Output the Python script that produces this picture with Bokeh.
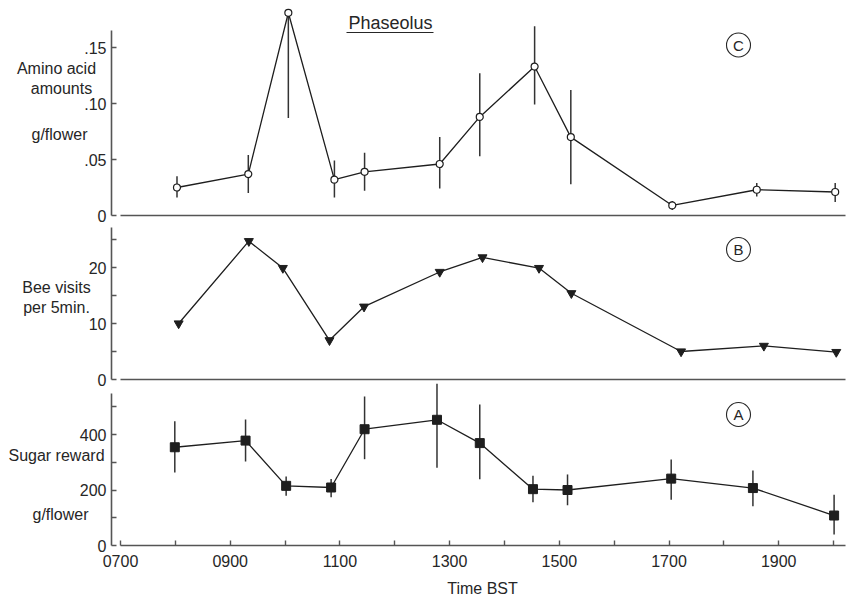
from bokeh.plotting import figure
from bokeh.models import Range1d, Label, FixedTicker, CustomJSTickFormatter, LinearAxis
from bokeh.embed import file_html
from bokeh.resources import INLINE

# ---------------- data (time in decimal hours BST) ----------------
amino_time = [8.03, 9.33, 10.06, 10.90, 11.45, 12.82, 13.55, 14.55, 15.21, 17.06, 18.60, 20.03]
amino = [0.025, 0.037, 0.181, 0.032, 0.039, 0.046, 0.088, 0.133, 0.070, 0.009, 0.023, 0.021]
amino_hi = [0.035, 0.054, 0.181, 0.049, 0.056, 0.070, 0.127, 0.169, 0.112, 0.013, 0.029, 0.029]
amino_lo = [0.016, 0.020, 0.087, 0.016, 0.022, 0.024, 0.053, 0.099, 0.028, 0.005, 0.017, 0.012]

bee_time = [8.06, 9.34, 9.96, 10.81, 11.44, 12.82, 13.60, 14.63, 15.22, 17.22, 18.73, 20.05]
bee = [10.0, 24.7, 19.9, 7.0, 13.0, 19.2, 21.8, 19.9, 15.4, 5.0, 6.0, 4.9]

sugar_time = [7.99, 9.28, 10.02, 10.84, 11.45, 12.77, 13.55, 14.52, 15.15, 17.04, 18.53, 20.01]
sugar = [354, 378, 215, 209, 419, 453, 369, 203, 200, 241, 207, 108]
sugar_hi = [448, 454, 249, 240, 537, 583, 508, 251, 256, 310, 270, 183]
sugar_lo = [263, 303, 179, 174, 311, 280, 239, 156, 145, 165, 141, 40]

x_ticks = list(range(7, 21))
amino_ticks = [0, 0.05, 0.10, 0.15]
bee_ticks = [0, 5, 10, 15, 20, 25]
sugar_ticks = [0, 100, 200, 300, 400, 500]

# ---------------- styling / layout ----------------
FONT = "Liberation Sans"
TXT = "#262626"
LINE = "#1e1e1e"
ERR = "#333333"
AXC = "#555555"
W, H = 850, 596
PXH = 54.85                          # pixels per hour
XA = 7 - 120 / PXH                   # hour at the left edge
XZ = XA + W / PXH
XB = (7, 20.22)                      # extent of the time axes


def px_x(px):
    return XA + px / PXH


Y_AXIS_X = px_x(111)

# panel scales: (pixel row of zero, pixels per unit)
TOP0, TOP_S = 215, 1120.0
MID0, MID_S = 379, 5.6
BOT0, BOT_S = 545, 0.2775

p = figure(width=W, height=H, x_range=Range1d(XA, XZ), y_range=Range1d(H, 0),
           x_axis_type=None, y_axis_type=None, output_backend="svg",
           toolbar_location=None, min_border=0)
p.outline_line_color = None
p.background_fill_color = "white"
p.border_fill_color = "white"
p.extra_y_ranges = {
    "amino": Range1d((TOP0 - H) / TOP_S, TOP0 / TOP_S),
    "bee": Range1d((MID0 - H) / MID_S, MID0 / MID_S),
    "sugar": Range1d((BOT0 - H) / BOT_S, BOT0 / BOT_S),
}


def style(ax):
    ax.axis_line_color = AXC
    ax.axis_line_width = 1.6
    ax.major_tick_line_color = AXC
    ax.major_tick_line_width = 1.4
    ax.major_tick_in = 5
    ax.major_tick_out = 0
    ax.minor_tick_in = 0
    ax.minor_tick_out = 0
    ax.major_label_text_font = FONT
    ax.major_label_text_font_size = "16px"
    ax.major_label_text_color = TXT
    return ax


def y_axis(name, ticks, bounds, code):
    ax = style(LinearAxis(y_range_name=name, fixed_location=Y_AXIS_X, bounds=bounds,
                          ticker=FixedTicker(ticks=ticks),
                          formatter=CustomJSTickFormatter(code=code)))
    ax.major_label_standoff = 5
    p.add_layout(ax, "left")


def x_axis(name, ticks, code=None):
    ax = style(LinearAxis(y_range_name=name, fixed_location=0, bounds=XB,
                          ticker=FixedTicker(ticks=ticks)))
    if code:
        ax.formatter = CustomJSTickFormatter(code=code)
        ax.major_label_standoff = 9
    else:
        ax.major_tick_in = 0
        ax.major_label_standoff = 0
    p.add_layout(ax, "below")


def add_label(x, y, text, size="16px"):
    p.add_layout(Label(x=x, y=y, text=text, text_font=FONT, text_font_size=size,
                       text_color=TXT, text_align="center", text_baseline="middle"))


def circled(px, py, letter):
    p.scatter([px_x(px)], [py], marker="circle", size=24, fill_color=None,
              line_color=TXT, line_width=1.1)
    add_label(px_x(px), py, letter, size="15px")


# axes
y_axis("amino", amino_ticks, (0, 0.165),
       "return tick == 0 ? '0' : tick.toFixed(2).replace(/^0/, '');")
y_axis("bee", bee_ticks, (0, 27.1),
       "return (Math.round(tick) % 10 == 0) ? tick.toFixed(0) : '';")
y_axis("sugar", sugar_ticks, (0, 548),
       "return (Math.round(tick) % 200 == 0) ? tick.toFixed(0) : '';")
x_axis("amino", [])
x_axis("bee", [])
x_axis("sugar", x_ticks,
       "var h = Math.round(tick); if (h % 2 == 0) return ''; return (h < 10 ? '0' : '') + h + '00';")

# top: amino acids (C)
p.segment(x0=amino_time, y0=amino_lo, x1=amino_time, y1=amino_hi,
          line_color=ERR, line_width=1.5, y_range_name="amino")
p.line(amino_time, amino, line_color=LINE, line_width=1.3, y_range_name="amino")
p.scatter(amino_time, amino, marker="circle", size=7, fill_color="white",
          line_color=LINE, line_width=1.2, y_range_name="amino")

# middle: bee visits (B)
p.line(bee_time, bee, line_color=LINE, line_width=1.3, y_range_name="bee")
p.scatter(bee_time, bee, marker="inverted_triangle", size=9, fill_color=LINE,
          line_color=LINE, y_range_name="bee")

# bottom: sugar reward (A)
p.segment(x0=sugar_time, y0=sugar_lo, x1=sugar_time, y1=sugar_hi,
          line_color=ERR, line_width=1.5, y_range_name="sugar")
p.line(sugar_time, sugar, line_color=LINE, line_width=1.3, y_range_name="sugar")
p.scatter(sugar_time, sugar, marker="square", size=9, fill_color=LINE,
          line_color=LINE, y_range_name="sugar")

# texts (positions in pixel rows of the default y range)
add_label(px_x(56), 68, "Amino acid")
add_label(px_x(61), 88, "amounts")
add_label(px_x(59), 134, "g/flower")
add_label(px_x(56), 286.5, "Bee visits")
add_label(px_x(56), 307, "per 5min.")
add_label(px_x(56), 455, "Sugar reward")
add_label(px_x(60), 514, "g/flower")
add_label(px_x(482), 588, "Time BST")
add_label(px_x(390), 22, "Phaseolus", size="18px")
p.segment(x0=[px_x(346)], y0=[32], x1=[px_x(433)], y1=[32], line_color=TXT, line_width=1.2)
circled(738, 44.5, "C")
circled(738, 249, "B")
circled(738, 414, "A")

open("out.html", "w").write(file_html(p, INLINE))
